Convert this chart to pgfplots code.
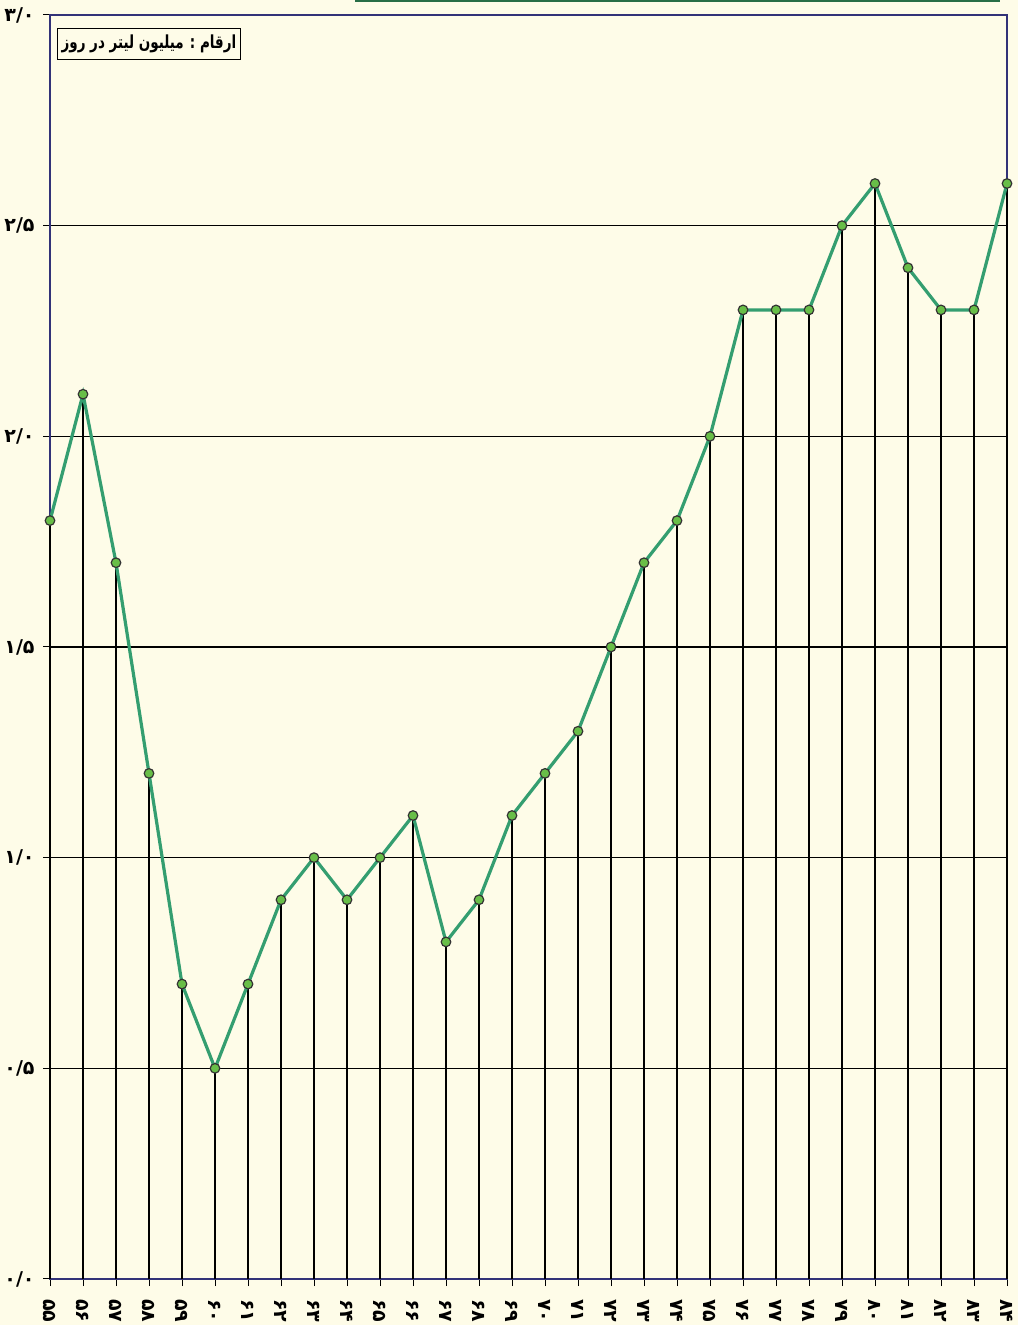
\documentclass[border=0pt]{standalone}
\usepackage{pgfplots}
\pgfplotsset{compat=1.18}
\usepackage{fontspec}
\usetikzlibrary{backgrounds}
\TeXXeTstate=1
\newfontfamily\fa[Script=Arabic]{DejaVu Sans}
\newfontfamily\faC[Script=Arabic, FakeStretch=0.75]{DejaVu Sans}
\definecolor{bgc}{RGB}{254,252,232}
\definecolor{lgreen}{RGB}{52,158,112}
\definecolor{mgreen}{RGB}{104,190,72}
\definecolor{navy}{RGB}{50,50,120}
\definecolor{dgreen}{RGB}{40,110,70}
\begin{document}
\begin{tikzpicture}
\pgfplotstableread{
x y
55 1.8
56 2.1
57 1.7
58 1.2
59 0.7
60 0.5
61 0.7
62 0.9
63 1.0
64 0.9
65 1.0
66 1.1
67 0.8
68 0.9
69 1.1
70 1.2
71 1.3
72 1.5
73 1.7
74 1.8
75 2.0
76 2.3
77 2.3
78 2.3
79 2.5
80 2.6
81 2.4
82 2.3
83 2.3
84 2.6
}\data
\begin{axis}[
  scale only axis, width=478.5pt, height=632pt,
  at={(0,0)}, anchor=south west,
  xmin=55, xmax=84, ymin=0, ymax=3,
  clip=false,
  axis background/.style={fill=bgc},
  axis line style={draw=navy, line width=0.8pt},
  xtick={55,...,84},
  xticklabels={۵۵,۵۶,۵۷,۵۸,۵۹,۶۰,۶۱,۶۲,۶۳,۶۴,۶۵,۶۶,۶۷,۶۸,۶۹,۷۰,۷۱,۷۲,۷۳,۷۴,۷۵,۷۶,۷۷,۷۸,۷۹,۸۰,۸۱,۸۲,۸۳,۸۴},
  ytick={0,0.5,1,1.5,2,2.5,3},
  yticklabels={۰/۰,۰/۵,۱/۰,۱/۵,۲/۰,۲/۵,۳/۰},
  xtick pos=left, ytick pos=left,
  tick align=outside, major tick length=3.5pt,
  tick style={black, line width=0.5pt},
  x tick label style={rotate=-90, anchor=west, font=\fa\bfseries\fontsize{9.5}{10}\selectfont, inner sep=1pt},
  xticklabel shift=5.5pt,
  y tick label style={font=\fa\bfseries\fontsize{9.5}{11}\selectfont, inner sep=1pt},
  yticklabel shift=3pt,
  ymajorgrids, grid style={black, line width=0.7pt},
]
\addplot[ycomb, black, line width=1.2pt, mark=none] table[x=x,y=y]{\data};
\addplot[lgreen, line width=1.6pt, mark=*, mark size=2.4pt,
  mark options={fill=mgreen, draw=black!80, line width=0.6pt}] table[x=x,y=y]{\data};
\node[draw=black, line width=0.6pt, fill=bgc, anchor=north west, inner xsep=2pt,
  minimum height=15pt, text depth=2pt,
  font=\faC\bfseries\fontsize{9}{10}\selectfont] at (rel axis cs:0.0073,0.9897)
  {\beginR ارقام :  میلیون لیتر  در روز\endR};
\end{axis}
\draw[dgreen, line width=1pt] (152.5pt,639pt) -- (475pt,639pt);
\pgfresetboundingbox
\begin{scope}[on background layer]
\fill[bgc] (-25pt,-23pt) rectangle (484pt,639.5pt);
\end{scope}
\end{tikzpicture}
\end{document}
